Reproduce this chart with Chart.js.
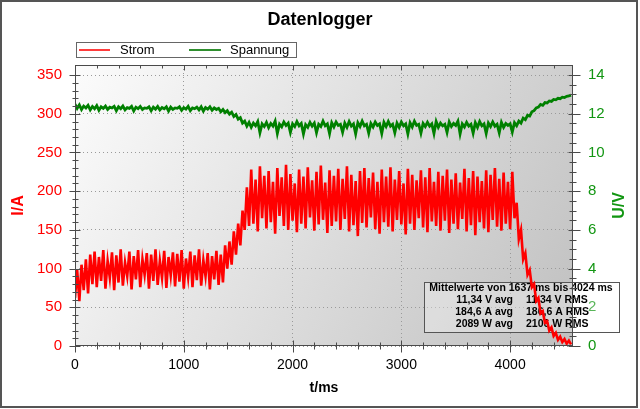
<!DOCTYPE html>
<html>
<head>
<meta charset="utf-8">
<script src="https://cdn.jsdelivr.net/npm/chart.js@4.4.1/dist/chart.umd.min.js"></script>
<style>
  html, body { margin: 0; padding: 0; background: #fff; }
</style>
</head>
<body>
<canvas id="logger" width="640" height="409"></canvas>
<script>
// sample interval of the logger
const sampleStepMs = 20;

// current in A, one value every 20 ms starting at 0 ms
const stromA = [
  62, 98, 58, 105, 72, 112, 68, 118, 80, 122,
  76, 115, 84, 124, 74, 110, 88, 121, 72, 117,
  82, 125, 78, 108, 90, 122, 73, 116, 86, 124,
  76, 112, 92, 120, 74, 118, 84, 125, 79, 110,
  88, 123, 75, 115, 91, 121, 77, 119, 83, 124,
  74, 113, 89, 122, 76, 117, 85, 125, 78, 111,
  90, 120, 73, 116, 86, 123, 79, 118, 82, 130,
  100, 135, 105, 148, 118, 158, 130, 175, 150, 205,
  155, 228, 158, 215, 148, 232, 165, 220, 152, 226,
  160, 212, 145, 230, 168, 218, 155, 234, 150, 222,
  162, 210, 147, 228, 158, 219, 152, 231, 166, 214,
  149, 225, 157, 233, 163, 211, 146, 227, 155, 220,
  161, 229, 150, 216, 164, 232, 148, 221, 156, 213,
  142, 226, 159, 230, 153, 217, 166, 224, 151, 212,
  145, 228, 160, 219, 154, 231, 148, 215, 163, 226,
  157, 210, 144, 229, 158, 221, 150, 214, 165, 227,
  153, 218, 147, 230, 161, 212, 155, 225, 149, 220,
  162, 228, 146, 215, 158, 223, 151, 211, 164, 229,
  148, 217, 156, 226, 143, 219, 160, 213, 152, 227,
  147, 221, 163, 230, 154, 216, 149, 224, 158, 212,
  151, 225, 165, 185, 138, 150, 112, 120, 92, 98,
  76, 80, 58, 62, 42, 45, 30, 32, 20, 24,
  13, 17, 8, 12, 5, 9, 3, 7, 2
];

// voltage in V, same sample times
const spannungV = [
  12.50, 12.28, 12.46, 12.22, 12.40, 12.30, 12.44, 12.20, 12.38, 12.26,
  12.42, 12.18, 12.36, 12.28, 12.40, 12.22, 12.34, 12.30, 12.38, 12.16,
  12.36, 12.26, 12.40, 12.20, 12.32, 12.28, 12.38, 12.14, 12.34, 12.26,
  12.38, 12.22, 12.30, 12.28, 12.36, 12.16, 12.34, 12.24, 12.38, 12.20,
  12.32, 12.26, 12.36, 12.14, 12.34, 12.22, 12.30, 12.28, 12.36, 12.18,
  12.32, 12.24, 12.38, 12.16, 12.30, 12.26, 12.34, 12.20, 12.36, 12.14,
  12.32, 12.24, 12.36, 12.18, 12.30, 12.22, 12.28, 12.10, 12.22, 12.06,
  12.16, 11.98, 12.08, 11.86, 11.96, 11.72, 11.80, 11.52, 11.62, 11.36,
  11.56, 11.30, 11.52, 11.38, 11.60, 11.02, 11.48, 11.34, 11.56, 11.28,
  11.50, 11.36, 11.62, 10.98, 11.46, 11.32, 11.58, 11.40, 11.52, 11.04,
  11.48, 11.34, 11.60, 11.38, 11.50, 10.96, 11.44, 11.30, 11.56, 11.36,
  11.52, 11.02, 11.46, 11.34, 11.62, 11.38, 11.48, 10.98, 11.54, 11.32,
  11.58, 11.40, 11.46, 11.04, 11.52, 11.30, 11.60, 11.36, 11.48, 10.96,
  11.54, 11.34, 11.62, 11.38, 11.46, 11.00, 11.50, 11.32, 11.58, 11.40,
  11.48, 10.98, 11.56, 11.34, 11.60, 11.36, 11.46, 11.02, 11.52, 11.30,
  11.58, 11.38, 11.48, 10.96, 11.54, 11.32, 11.62, 11.40, 11.46, 11.00,
  11.50, 11.34, 11.56, 11.36, 11.48, 10.98, 11.60, 11.30, 11.52, 11.38,
  11.46, 11.04, 11.58, 11.34, 11.50, 11.40, 11.62, 10.96, 11.48, 11.32,
  11.56, 11.36, 11.46, 11.00, 11.54, 11.30, 11.60, 11.38, 11.48, 10.98,
  11.52, 11.34, 11.58, 11.36, 11.46, 11.02, 11.56, 11.30, 11.50, 11.40,
  11.48, 11.06, 11.54, 11.38, 11.62, 11.52, 11.78, 11.70, 11.92, 11.88,
  12.10, 12.16, 12.30, 12.34, 12.48, 12.44, 12.58, 12.56, 12.66, 12.64,
  12.74, 12.72, 12.80, 12.78, 12.86, 12.84, 12.90, 12.92, 12.96
];

const xTicks = [0, 1000, 2000, 3000, 4000];
const iTicks = [0, 50, 100, 150, 200, 250, 300, 350];
const uTicks = [0, 2, 4, 6, 8, 10, 12, 14];

const statsTitle = 'Mittelwerte von 1637 ms bis 4024 ms';
const statsAvg = ['11,34 V avg', '184,6 A avg', '2089 W avg'];
const statsRms = ['11,34 V RMS', '186,6 A RMS', '2106 W RMS'];

const FONT = '"Liberation Sans", Arial, sans-serif';
const RED = '#ff0000';
const GREEN = '#008000';
const GREEN_TXT = '#129612';
const AXIS = '#4a4a4a';

const asPoints = arr => arr.map((v, i) => ({ x: i * sampleStepMs, y: v }));
const fixedTicks = list => scale => { scale.ticks = list.map(v => ({ value: v })); };

// background gradient, stats box, frame with minor ticks, legend
const decorations = {
  id: 'decorations',
  beforeDraw(chart) {
    const { ctx, chartArea: a } = chart;
    const g = ctx.createLinearGradient(a.left, a.top, a.right, a.bottom);
    g.addColorStop(0, '#fcfcfc');
    g.addColorStop(1, '#c0c0c0');
    ctx.save();
    ctx.fillStyle = g;
    ctx.fillRect(a.left, a.top, a.right - a.left, a.bottom - a.top);
    ctx.restore();
  },
  beforeDatasetsDraw(chart) {
    const { ctx } = chart;
    ctx.save();
    ctx.fillStyle = 'rgba(255,255,255,0.3)';
    ctx.fillRect(424, 282, 195, 50);
    ctx.strokeStyle = '#555';
    ctx.lineWidth = 1;
    ctx.strokeRect(424.5, 282.5, 195, 50);
    ctx.fillStyle = '#000';
    ctx.font = 'bold 10.5px ' + FONT;
    ctx.textBaseline = 'middle';
    ctx.textAlign = 'center';
    ctx.fillText(statsTitle, 521, 288);
    statsAvg.forEach((t, i) => {
      const y = 300 + i * 12.3;
      ctx.textAlign = 'right';
      ctx.fillText(t, 513, y);
      ctx.textAlign = 'left';
      ctx.fillText(statsRms[i], 526, y);
    });
    ctx.restore();
  },
  afterDatasetsDraw(chart) {
    const { ctx, chartArea: a, scales } = chart;
    ctx.save();
    ctx.strokeStyle = AXIS;
    ctx.lineWidth = 1;
    const L = Math.round(a.left) + 0.5, R = Math.round(a.right) - 0.5;
    const T = Math.round(a.top) + 0.5, B = Math.round(a.bottom) - 0.5;
    ctx.strokeRect(L, T, R - L, B - T);
    ctx.beginPath();
    // x ticks: bottom crossing, top inward
    for (let k = 0; k * 200 <= scales.x.max; k++) {
      const major = k % 5 === 0;
      const px = Math.round(scales.x.getPixelForValue(k * 200)) + 0.5;
      ctx.moveTo(px, B - (major ? 5 : 3)); ctx.lineTo(px, B + (major ? 7 : 4));
      ctx.moveTo(px, T); ctx.lineTo(px, T + (major ? 5 : 3));
    }
    // left current axis
    for (let k = 0; k <= 35; k++) {
      const major = k % 5 === 0;
      const py = Math.round(scales.yI.getPixelForValue(k * 10)) + 0.5;
      ctx.moveTo(L - (major ? 6 : 3), py); ctx.lineTo(L + (major ? 5 : 3), py);
    }
    // right voltage axis
    for (let k = 0; k <= 28; k++) {
      const major = k % 4 === 0;
      const py = Math.round(scales.yU.getPixelForValue(k * 0.5)) + 0.5;
      ctx.moveTo(R - (major ? 4 : 3), py); ctx.lineTo(R + (major ? 8 : 4), py);
    }
    ctx.stroke();
    ctx.restore();
  },
  afterDraw(chart) {
    const { ctx, chartArea: a } = chart;
    const ds = chart.data.datasets;
    ctx.save();
    // right axis title, read bottom to top like the left one
    ctx.fillStyle = GREEN_TXT;
    ctx.font = 'bold 16px ' + FONT;
    ctx.textAlign = 'center';
    ctx.textBaseline = 'middle';
    ctx.translate(620, (a.top + a.bottom) / 2);
    ctx.rotate(-Math.PI / 2);
    ctx.fillText('U/V', 0, 0);
    ctx.setTransform(1, 0, 0, 1, 0, 0);

    ctx.fillStyle = '#fff';
    ctx.fillRect(76, 42, 220, 15);
    ctx.strokeStyle = '#666';
    ctx.lineWidth = 1;
    ctx.strokeRect(76.5, 42.5, 220, 15);
    ctx.font = '13px ' + FONT;
    ctx.textAlign = 'left';
    const items = [[79, 110, 120, '#ff3c3c'], [189, 221, 230, '#2f8f2f']];
    items.forEach(([x0, x1, tx, col], i) => {
      ctx.fillStyle = col;
      ctx.fillRect(x0, 49, x1 - x0, 2);
      ctx.fillStyle = '#000';
      ctx.fillText(ds[i].label, tx, 50);
    });
    // outer frame of the picture
    ctx.strokeStyle = '#555';
    ctx.lineWidth = 2;
    ctx.strokeRect(1, 1, 636, 406);
    ctx.restore();
  }
};

new Chart(document.getElementById('logger'), {
  type: 'line',
  data: {
    datasets: [
      {
        label: 'Strom',
        data: asPoints(stromA),
        yAxisID: 'yI',
        borderColor: RED,
        borderWidth: 2.6,
        pointRadius: 0,
        tension: 0
      },
      {
        label: 'Spannung',
        data: asPoints(spannungV),
        yAxisID: 'yU',
        borderColor: GREEN,
        borderWidth: 2.8,
        pointRadius: 0,
        tension: 0
      }
    ]
  },
  options: {
    responsive: false,
    animation: false,
    devicePixelRatio: 1,
    layout: { padding: 0 },
    plugins: {
      legend: { display: false },
      tooltip: { enabled: false },
      title: {
        display: true,
        text: 'Datenlogger',
        color: '#000',
        font: { family: FONT, size: 18, weight: 'bold' },
        padding: { top: 9, bottom: 34.4 }
      }
    },
    scales: {
      x: {
        type: 'linear',
        min: 0,
        max: 4578,
        afterBuildTicks: fixedTicks(xTicks),
        afterFit: s => { s.height = 63; },
        grid: { color: '#9a9a9a', drawTicks: false },
        border: { display: false, dash: [1, 3] },
        ticks: {
          color: '#000',
          font: { family: FONT, size: 14 },
          padding: 11,
          maxRotation: 0,
          callback: v => String(v)
        },
        title: {
          display: true,
          text: 't/ms',
          color: '#000',
          font: { family: FONT, size: 14, weight: 'bold' },
          padding: { top: 0, bottom: 12 }
        }
      },
      yI: {
        type: 'linear',
        position: 'left',
        min: 0,
        max: 363,
        afterBuildTicks: fixedTicks(iTicks),
        afterFit: s => { s.width = 75; },
        grid: { color: '#9a9a9a', drawTicks: false },
        border: { display: false, dash: [1, 3] },
        ticks: {
          color: RED,
          font: { family: FONT, size: 15 },
          padding: 13,
          callback: v => String(v)
        },
        title: {
          display: true,
          text: 'I/A',
          color: RED,
          font: { family: FONT, size: 16, weight: 'bold' },
          padding: { top: 9, bottom: 0 }
        }
      },
      yU: {
        type: 'linear',
        position: 'right',
        min: 0,
        max: 14.52,
        afterBuildTicks: fixedTicks(uTicks),
        afterFit: s => { s.width = 67; },
        grid: { drawOnChartArea: false, drawTicks: false },
        border: { display: false },
        ticks: {
          color: GREEN_TXT,
          font: { family: FONT, size: 15 },
          padding: 15,
          callback: v => String(v)
        },
        title: { display: false }
      }
    }
  },
  plugins: [decorations]
});
</script>
</body>
</html>
